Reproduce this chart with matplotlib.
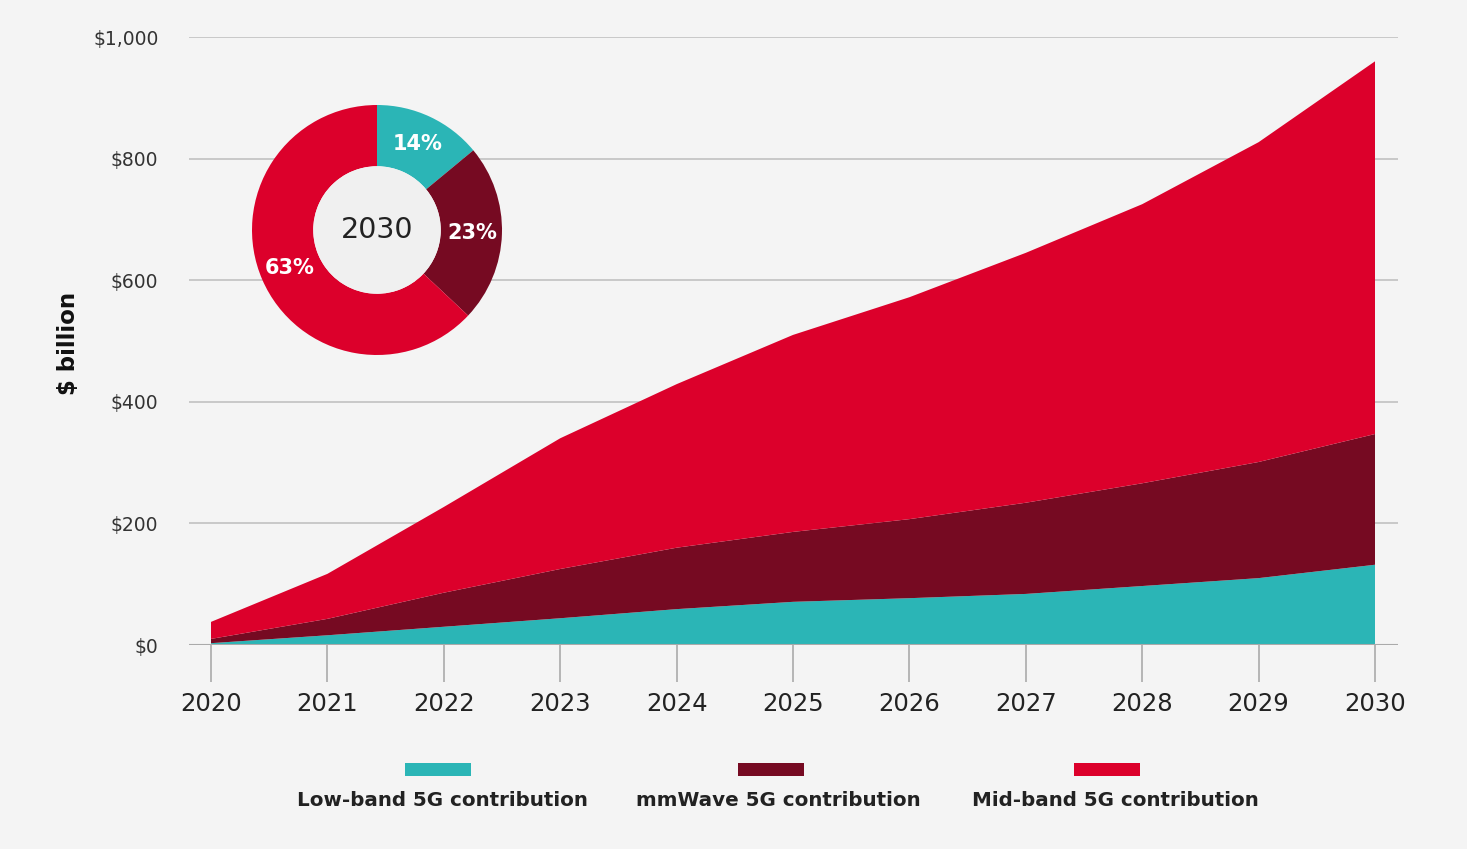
import matplotlib
matplotlib.use("Agg")
import matplotlib.pyplot as plt
from matplotlib.patches import Rectangle, Circle

years = [2020, 2021, 2022, 2023, 2024, 2025, 2026, 2027, 2028, 2029, 2030]
low_band = [3, 16, 30, 44, 59, 71, 77, 84, 97, 110, 132]
mmwave = [7, 27, 56, 81, 101, 115, 130, 150, 169, 191, 215]
mid_band = [28, 74, 141, 215, 269, 324, 365, 411, 459, 526, 613]
series_names = ["Low-band 5G contribution", "mmWave 5G contribution", "Mid-band 5G contribution"]
y_ticks = [0, 200, 400, 600, 800, 1000]
y_tick_labels = ["$0", "$200", "$400", "$600", "$800", "$1,000"]
donut_year = "2030"
donut_shares = [14, 23, 63]

colors = ["#2bb5b6", "#760a22", "#dc002b"]
bg = "#f4f4f4"
FONT = ["DejaVu Sans"]
plt.rcParams["font.family"] = FONT

W, H = 1467, 849
fig = plt.figure(figsize=(W / 100, H / 100), dpi=100, facecolor=bg)

# main axes
left, right, top, bottom = 189, 1398, 37, 645
ax = fig.add_axes([left / W, 1 - bottom / H, (right - left) / W, (bottom - top) / H])
ax.set_facecolor(bg)
ax.stackplot(years, low_band, mmwave, mid_band, colors=colors, linewidth=0)
ax.set_xlim(2020 - 22 / 116.4, 2030 + 23 / 116.4)
ax.set_ylim(0, 1000)
for s in ax.spines.values():
    s.set_visible(False)
ax.set_yticks(y_ticks)
ax.set_yticklabels(y_tick_labels, fontsize=13.5, color="#333333")
ax.tick_params(axis="y", length=0, pad=22)
ax.set_xticks(years)
ax.set_xticklabels([str(y) for y in years], fontsize=17.5, color="#222222")
ax.tick_params(axis="x", length=26.6, width=1.2, color="#aaaaaa", pad=7, direction="out")
ax.grid(axis="y", color="#bdbdbd", linewidth=1.1)
ax.set_axisbelow(True)
ax.axhline(0, color="#aaaaaa", linewidth=1.5, zorder=5)

fig.text(68 / W, 1 - 343 / H, "$ billion", rotation=90, fontsize=16.5, fontweight="bold",
         ha="center", va="center", color="#111111")

# donut inset
cx, cy, r = 377, 230, 125
dax = fig.add_axes([(cx - r) / W, 1 - (cy + r) / H, 2 * r / W, 2 * r / H])
dax.set_aspect("equal")
wedges, texts, autotexts = dax.pie(
    donut_shares, colors=colors, startangle=90, counterclock=False,
    radius=1.0, wedgeprops=dict(width=0.49, linewidth=0),
    autopct=lambda p: f"{p:.0f}%", pctdistance=0.76,
    textprops=dict(color="white", fontsize=15, fontweight="bold"))
dax.add_patch(Circle((0, 0), 0.51, facecolor="#f0f0f0", edgecolor="none", zorder=3))
dax.text(0, 0, donut_year, ha="center", va="center", fontsize=20.5, color="#222222", zorder=4)
dax.set_xlim(-1.0, 1.0)
dax.set_ylim(-1.0, 1.0)
dax.axis("off")

# legend
patch_x = [405, 738, 1074]
label_cx = [442, 778, 1115]
for px, lx, name, c in zip(patch_x, label_cx, series_names, colors):
    fig.patches.append(Rectangle((px / W, 1 - 776 / H), 66 / W, 13 / H,
                                 transform=fig.transFigure, facecolor=c, edgecolor="none"))
    fig.text(lx / W, 1 - 801 / H, name, ha="center", va="center", fontsize=14.3,
             fontweight="bold", color="#222222")

fig.savefig("out.png", dpi=100, facecolor=bg)
